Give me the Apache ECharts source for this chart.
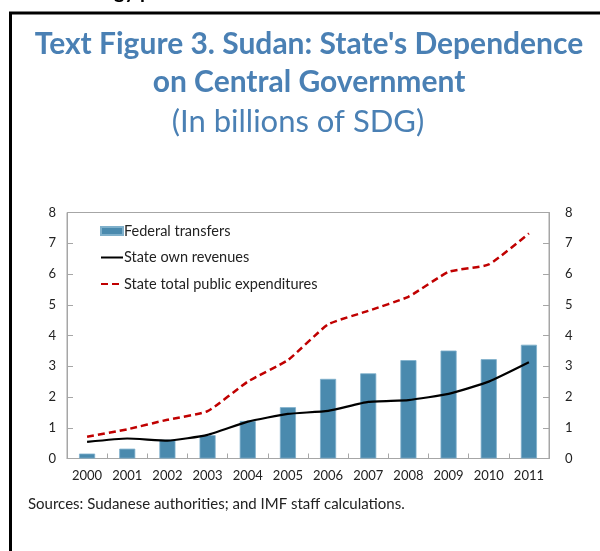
<!DOCTYPE html>
<html>
<head>
<meta charset="utf-8">
<script src="https://cdn.jsdelivr.net/npm/echarts@6/dist/echarts.min.js"></script>
<style>
  html, body { margin: 0; padding: 0; background: #fff; }
  #chart { width: 600px; height: 551px; }
</style>
</head>
<body>
<div id="chart"></div>
<script>
// Sudan: state finances, billions of SDG
const years = ['2000','2001','2002','2003','2004','2005','2006','2007','2008','2009','2010','2011'];
const federalTransfers = [0.16, 0.32, 0.61, 0.76, 1.22, 1.67, 2.59, 2.77, 3.20, 3.51, 3.23, 3.70];
const stateOwnRevenues = [0.54, 0.65, 0.58, 0.77, 1.20, 1.45, 1.55, 1.84, 1.90, 2.10, 2.50, 3.13];
const stateTotalExpenditures = [0.71, 0.95, 1.26, 1.54, 2.50, 3.20, 4.36, 4.80, 5.26, 6.07, 6.31, 7.32];
const yTicks = [0, 1, 2, 3, 4, 5, 6, 7, 8];

const FONT = 'Lato, "Open Sans", sans-serif';
const TITLE_BLUE = '#4A80B4';
const AXIS_GRAY = '#A6A6A6';
const TEXT = '#222';

const chart = echarts.init(document.getElementById('chart'), null, { renderer: 'canvas' });

function valueAxis(position, labelMargin) {
  return {
    type: 'value',
    position: position,
    min: yTicks[0],
    max: yTicks[yTicks.length - 1],
    interval: 1,
    axisLine: { show: true, lineStyle: { color: AXIS_GRAY, width: 1 } },
    axisTick: { show: true, inside: true, length: 6, lineStyle: { color: AXIS_GRAY } },
    splitLine: { show: false },
    axisLabel: { color: TEXT, fontFamily: FONT, fontSize: 13, margin: labelMargin }
  };
}

chart.setOption({
  animation: false,
  backgroundColor: '#fff',
  textStyle: { fontFamily: FONT },
  graphic: [
    {
      type: 'text', left: 114, top: -18, silent: true,
      style: { text: 'gy p', font: 'bold 20px ' + FONT, fill: '#000' }
    },
    {
      type: 'rect', silent: true,
      shape: { x: 10.5, y: 13, width: 700, height: 700 },
      style: { fill: 'none', stroke: '#000', lineWidth: 3 }
    },
    {
      type: 'text', left: 28, top: 497, silent: true,
      style: { text: 'Sources: Sudanese authorities; and IMF staff calculations.', font: '15px ' + FONT, fill: TEXT }
    }
  ],
  title: [
    {
      text: "Text Figure 3. Sudan: State's Dependence\non Central Government",
      left: 309,
      textAlign: 'center',
      top: 25,
      padding: 0,
      textStyle: { color: TITLE_BLUE, fontFamily: FONT, fontWeight: 'bold', fontSize: 30, lineHeight: 38 }
    },
    {
      text: '(In billions of SDG)',
      left: 298,
      textAlign: 'center',
      top: 106,
      padding: 0,
      textStyle: { color: TITLE_BLUE, fontFamily: FONT, fontWeight: 'normal', fontSize: 31, lineHeight: 31 }
    }
  ],
  legend: {
    orient: 'vertical',
    left: 100,
    top: 223.5,
    padding: 0,
    itemWidth: 22,
    itemHeight: 8,
    itemGap: 11.5,
    selectedMode: false,
    textStyle: { color: TEXT, fontFamily: FONT, fontSize: 14.5, padding: [0, 0, 0, -4] },
    data: [
      { name: 'Federal transfers', icon: 'rect' },
      { name: 'State own revenues', itemStyle: { opacity: 0 } },
      { name: 'State total public expenditures', itemStyle: { opacity: 0 } }
    ]
  },
  grid: {
    left: 67, right: 51, top: 212.5, bottom: 92.5,
    show: true, borderColor: AXIS_GRAY, borderWidth: 1, backgroundColor: 'transparent'
  },
  xAxis: {
    type: 'category',
    data: years,
    axisLine: { show: true, lineStyle: { color: AXIS_GRAY, width: 1 } },
    axisTick: { show: true, inside: true, interval: 0, length: 5, lineStyle: { color: AXIS_GRAY } },
    axisLabel: { color: TEXT, fontFamily: FONT, fontSize: 13, margin: 11, interval: 0 }
  },
  yAxis: [valueAxis('left', 11), valueAxis('right', 16)],
  series: [
    {
      name: 'Federal transfers',
      type: 'bar',
      data: federalTransfers,
      barWidth: '40%',
      itemStyle: { color: '#4A8AAE', borderColor: '#7FB0CB', borderWidth: 0.8 }
    },
    {
      name: 'State own revenues',
      type: 'line',
      data: stateOwnRevenues,
      symbol: 'none',
      smooth: 0.15,
      lineStyle: { color: '#000', width: 2.2 },
      itemStyle: { color: '#000' }
    },
    {
      name: 'State total public expenditures',
      type: 'line',
      data: stateTotalExpenditures,
      symbol: 'none',
      smooth: 0.15,
      lineStyle: { color: '#C00000', width: 2.5, type: [7, 4] },
      itemStyle: { color: '#C00000' }
    }
  ]
});
</script>
</body>
</html>
